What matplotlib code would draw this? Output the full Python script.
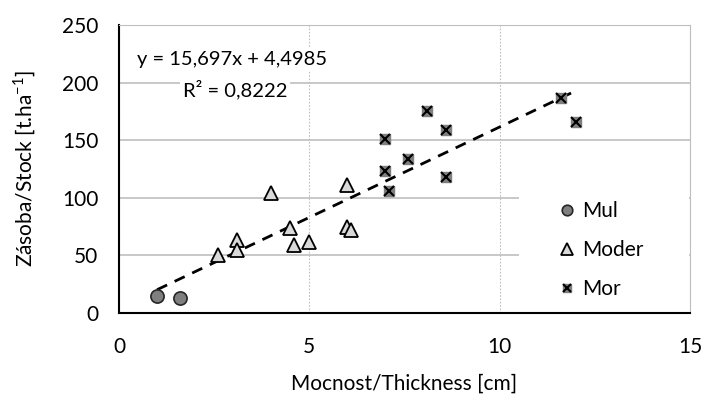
import numpy as np
import matplotlib
matplotlib.use('Agg')
import matplotlib.pyplot as plt
from matplotlib.patches import Rectangle
from matplotlib.legend_handler import HandlerTuple

plt.rcParams['font.family'] = ['Lato', 'DejaVu Sans']
plt.rcParams['mathtext.fontset'] = 'custom'
plt.rcParams['mathtext.rm'] = 'Lato'

# values
mul_x = [1.0, 1.6]
mul_y = [15, 13]
moder_x = [2.6, 3.1, 3.1, 4.0, 4.5, 4.6, 5.0, 6.0, 6.0, 6.1]
moder_y = [50, 63, 55, 104, 74, 59, 62, 111, 75, 72]
mor_x = [7.0, 7.0, 7.1, 7.6, 8.1, 8.6, 8.6, 11.6, 12.0]
mor_y = [151, 123, 106, 134, 175, 159, 118, 187, 166]

# trend line from the chart label
slope = 15.697
intercept = 4.4985
trend_x = [1.0, 12.0]

fig = plt.figure(figsize=(7.02, 3.96), dpi=100)
ax = fig.add_axes([0.1695, 0.2096, 0.8135, 0.7274])

ax.set_xlim(0, 15)
ax.set_ylim(0, 250)
ax.set_xticks([0, 5, 10, 15])
ax.set_yticks([0, 50, 100, 150, 200, 250])

# grid: solid horizontal, dotted vertical
ax.yaxis.grid(True, color='#bfbfbf', lw=1.2, ls='-')
ax.xaxis.grid(True, color='#bfbfbf', lw=0.8, ls=(0, (1.5, 1.5)))
ax.set_axisbelow(True)

for s in ['top', 'right']:
    ax.spines[s].set_color('#bfbfbf')
for s in ['left', 'bottom']:
    ax.spines[s].set_color('black')
    ax.spines[s].set_linewidth(1.5)
ax.tick_params(length=0, labelsize=15)
ax.tick_params(axis='x', pad=17)
ax.tick_params(axis='y', pad=15)

# white area behind the legend (hides the grid like in the original)
ax.add_patch(Rectangle((0.70, 0.0), 0.298, 0.41, transform=ax.transAxes,
                       fc='white', ec='none', zorder=1.5))

ty = [slope * x + intercept for x in trend_x]
ax.plot(trend_x, ty, ls=(0, (4, 3)), color='black', lw=2, zorder=2)

h_mul, = ax.plot(mul_x, mul_y, 'o', ms=9.5, mfc='#7f7f7f', mec='#262626',
                 mew=1.2, ls='none', zorder=3)
h_mod, = ax.plot(moder_x, moder_y, '^', ms=10, mfc='#d9d9d9', mec='black',
                 mew=1.3, ls='none', zorder=3)
h_mor1, = ax.plot(mor_x, mor_y, 's', ms=7.5, mfc='#7f7f7f', mec='#7f7f7f',
                  ls='none', zorder=3)
h_mor2, = ax.plot(mor_x, mor_y, 'x', ms=7, mec='black', mew=1.5,
                  ls='none', zorder=4)

ax.text(2.97, 220, 'y = 15,697x + 4,4985', ha='center', va='center',
        fontsize=14.5, bbox=dict(fc='white', ec='none', pad=2), zorder=5)
ax.text(3.05, 194, 'R² = 0,8222', ha='center', va='center',
        fontsize=14.5, bbox=dict(fc='white', ec='none', pad=2), zorder=5)

leg = ax.legend([h_mul, h_mod, (h_mor1, h_mor2)], ['Mul', 'Moder', 'Mor'],
                handler_map={tuple: HandlerTuple(ndivide=1, pad=0)},
                loc='lower left', bbox_to_anchor=(0.758, 0.02),
                frameon=False, fontsize=15, markerscale=0.8,
                handlelength=0.7, handletextpad=0.35, labelspacing=0.9,
                borderpad=0.4, borderaxespad=0.0)
leg.set_zorder(6)

ax.set_xlabel('Mocnost/Thickness [cm]', fontsize=15, labelpad=12)
ax.set_ylabel('Zásoba/Stock [t.ha$^{-1}$]', fontsize=15, labelpad=17)

fig.savefig('out.png', dpi=100)
